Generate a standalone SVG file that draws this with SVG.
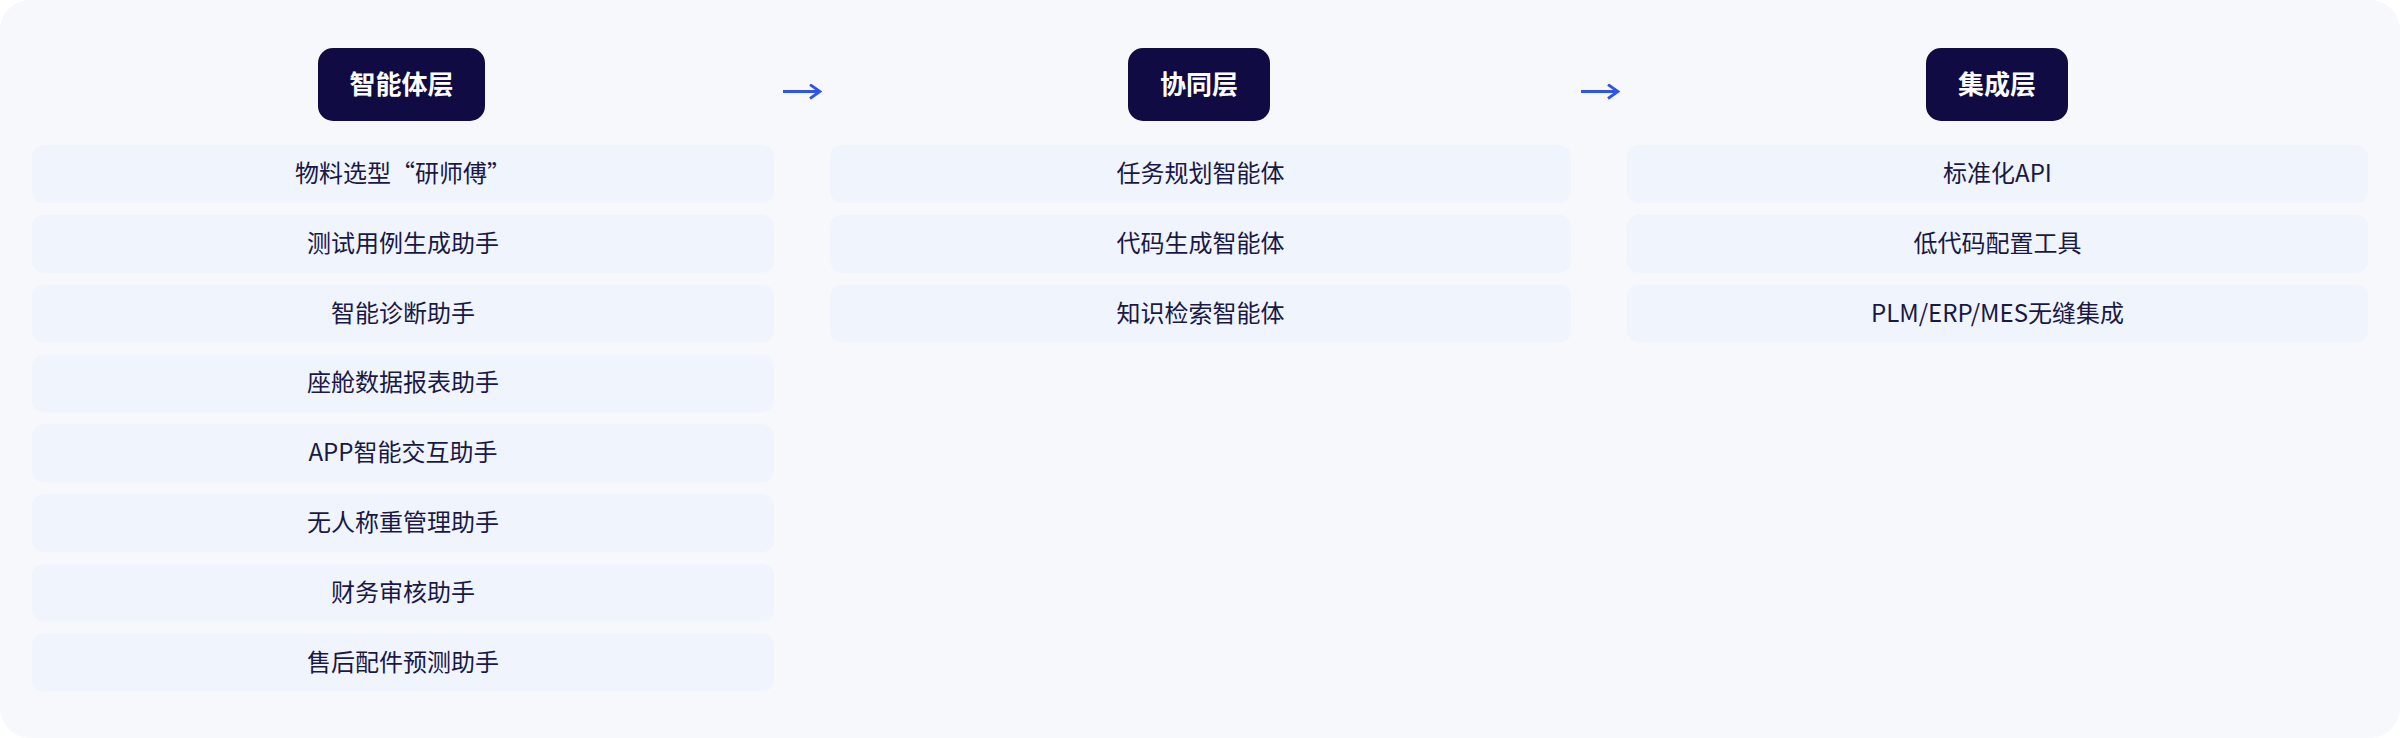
<svg xmlns="http://www.w3.org/2000/svg" width="2400" height="738" viewBox="0 0 2400 738">
<style>
.panel{fill:#f7f8fb}
.hdr{fill:#100b42}
.hdrt{fill:#ffffff;font-family:"Noto Sans CJK SC","Noto Sans",sans-serif;font-size:26px;font-weight:700;text-anchor:middle}
.card{fill:#eff4fd}
.cardt{fill:#1a1845;font-family:"Noto Sans CJK SC","Noto Sans",sans-serif;font-size:24px;text-anchor:middle}
.conn{stroke:#2f55e4;stroke-width:3.2;fill:none}
</style>
<defs>
<marker id="ah" viewBox="0 0 14 16" refX="12" refY="8" markerWidth="14" markerHeight="16" markerUnits="userSpaceOnUse" orient="auto">
<path d="M2,1 L12,8 L2,15" fill="none" stroke="#2f55e4" stroke-width="2.8"/>
</marker>
</defs>
<rect width="2400" height="738" fill="#ffffff"/>
<rect class="panel" x="0" y="0" width="2400" height="738" rx="30"/>
<g id="col1">
<g id="hdr1"><rect class="hdr" x="318" y="48" width="167" height="73" rx="15"/><text class="hdrt" x="401.5" y="94">智能体层</text></g>
<g id="n1-1"><rect class="card" x="32" y="145" width="742" height="58" rx="12"/><text class="cardt" x="403" y="182">物料选型“研师傅”</text></g>
<g id="n1-2"><rect class="card" x="32" y="214.8" width="742" height="58" rx="12"/><text class="cardt" x="403" y="251.8">测试用例生成助手</text></g>
<g id="n1-3"><rect class="card" x="32" y="284.6" width="742" height="58" rx="12"/><text class="cardt" x="403" y="321.6">智能诊断助手</text></g>
<g id="n1-4"><rect class="card" x="32" y="354.4" width="742" height="58" rx="12"/><text class="cardt" x="403" y="391.4">座舱数据报表助手</text></g>
<g id="n1-5"><rect class="card" x="32" y="424.2" width="742" height="58" rx="12"/><text class="cardt" x="403" y="461.2">APP智能交互助手</text></g>
<g id="n1-6"><rect class="card" x="32" y="494" width="742" height="58" rx="12"/><text class="cardt" x="403" y="531">无人称重管理助手</text></g>
<g id="n1-7"><rect class="card" x="32" y="563.8" width="742" height="58" rx="12"/><text class="cardt" x="403" y="600.8">财务审核助手</text></g>
<g id="n1-8"><rect class="card" x="32" y="633.6" width="742" height="58" rx="12"/><text class="cardt" x="403" y="670.6">售后配件预测助手</text></g>
</g>
<g id="col2">
<g id="hdr2"><rect class="hdr" x="1128" y="48" width="142" height="73" rx="15"/><text class="hdrt" x="1199" y="94">协同层</text></g>
<g id="n2-1"><rect class="card" x="830" y="145" width="741" height="58" rx="12"/><text class="cardt" x="1200.5" y="182">任务规划智能体</text></g>
<g id="n2-2"><rect class="card" x="830" y="214.8" width="741" height="58" rx="12"/><text class="cardt" x="1200.5" y="251.8">代码生成智能体</text></g>
<g id="n2-3"><rect class="card" x="830" y="284.6" width="741" height="58" rx="12"/><text class="cardt" x="1200.5" y="321.6">知识检索智能体</text></g>
</g>
<g id="col3">
<g id="hdr3"><rect class="hdr" x="1926" y="48" width="142" height="73" rx="15"/><text class="hdrt" x="1997" y="94">集成层</text></g>
<g id="n3-1"><rect class="card" x="1627" y="145" width="741" height="58" rx="12"/><text class="cardt" x="1997.5" y="182">标准化API</text></g>
<g id="n3-2"><rect class="card" x="1627" y="214.8" width="741" height="58" rx="12"/><text class="cardt" x="1997.5" y="251.8">低代码配置工具</text></g>
<g id="n3-3"><rect class="card" x="1627" y="284.6" width="741" height="58" rx="12"/><text class="cardt" x="1997.5" y="321.6">PLM/ERP/MES无缝集成</text></g>
</g>
<g id="connectors">
<path class="conn" d="M783,91.5 L820,91.5" marker-end="url(#ah)"/>
<path class="conn" d="M1581,91.5 L1618,91.5" marker-end="url(#ah)"/>
</g>
</svg>
